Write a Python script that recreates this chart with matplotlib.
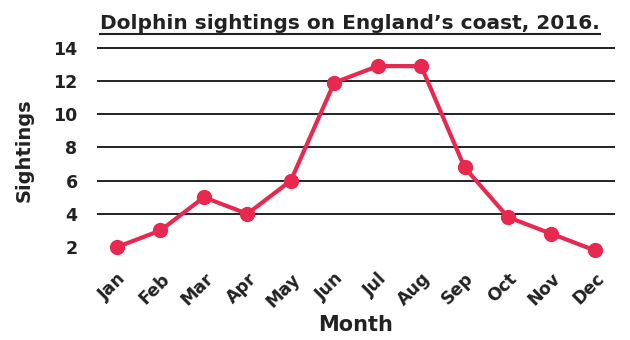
import matplotlib
matplotlib.use("Agg")
import matplotlib.pyplot as plt
from matplotlib.lines import Line2D

months = ["Jan", "Feb", "Mar", "Apr", "May", "Jun", "Jul", "Aug", "Sep", "Oct", "Nov", "Dec"]
sightings = [2, 3, 5, 4, 6, 11.9, 12.9, 12.9, 6.8, 3.8, 2.8, 1.8]
yticks = [2, 4, 6, 8, 10, 12, 14]
gridlines = [4, 6, 8, 10, 12, 14]

plt.rcParams['font.family'] = ['DejaVu Sans']
fig = plt.figure(figsize=(6.3, 3.4), dpi=100)
ax = fig.add_axes([0.154, 0.244, 0.822, 0.630])
x = list(range(len(months)))
for g in gridlines:
    ax.axhline(g, color='#222222', lw=1.4, zorder=1)
ax.plot(x, sightings, color='#e8294f', lw=3, marker='o', ms=10, zorder=3)
ax.set_xlim(-0.46, 11.46)
ax.set_ylim(1.4, 14.3)
ax.set_yticks(yticks)
ax.set_yticklabels([str(v) for v in yticks], fontsize=12.5, fontweight='bold', color='#222222')
ax.set_xticks(x)
ax.set_xticklabels(months, rotation=45, ha='right', rotation_mode='anchor', fontsize=12.5,
                   fontweight='bold', color='#222222')
ax.tick_params(axis='y', length=0, pad=14)
ax.tick_params(axis='x', length=0, pad=9)
for s in ax.spines.values():
    s.set_visible(False)
ax.set_ylabel("Sightings", fontsize=14, fontweight='bold', labelpad=14, color='#222222')
ax.set_xlabel("Month", fontsize=15, fontweight='bold', labelpad=3, color='#222222')
t = fig.text(0.555, 0.915, "Dolphin sightings on England\u2019s coast, 2016.", ha='center', va='baseline',
             fontsize=14.5, fontweight='bold', color='#222222')
fig.canvas.draw()
bb = t.get_window_extent().transformed(fig.transFigure.inverted())
fig.add_artist(Line2D([bb.x0, bb.x1], [bb.y0 - 0.004, bb.y0 - 0.004], color='#222222', lw=1.5))
fig.savefig("out.png", dpi=100)
